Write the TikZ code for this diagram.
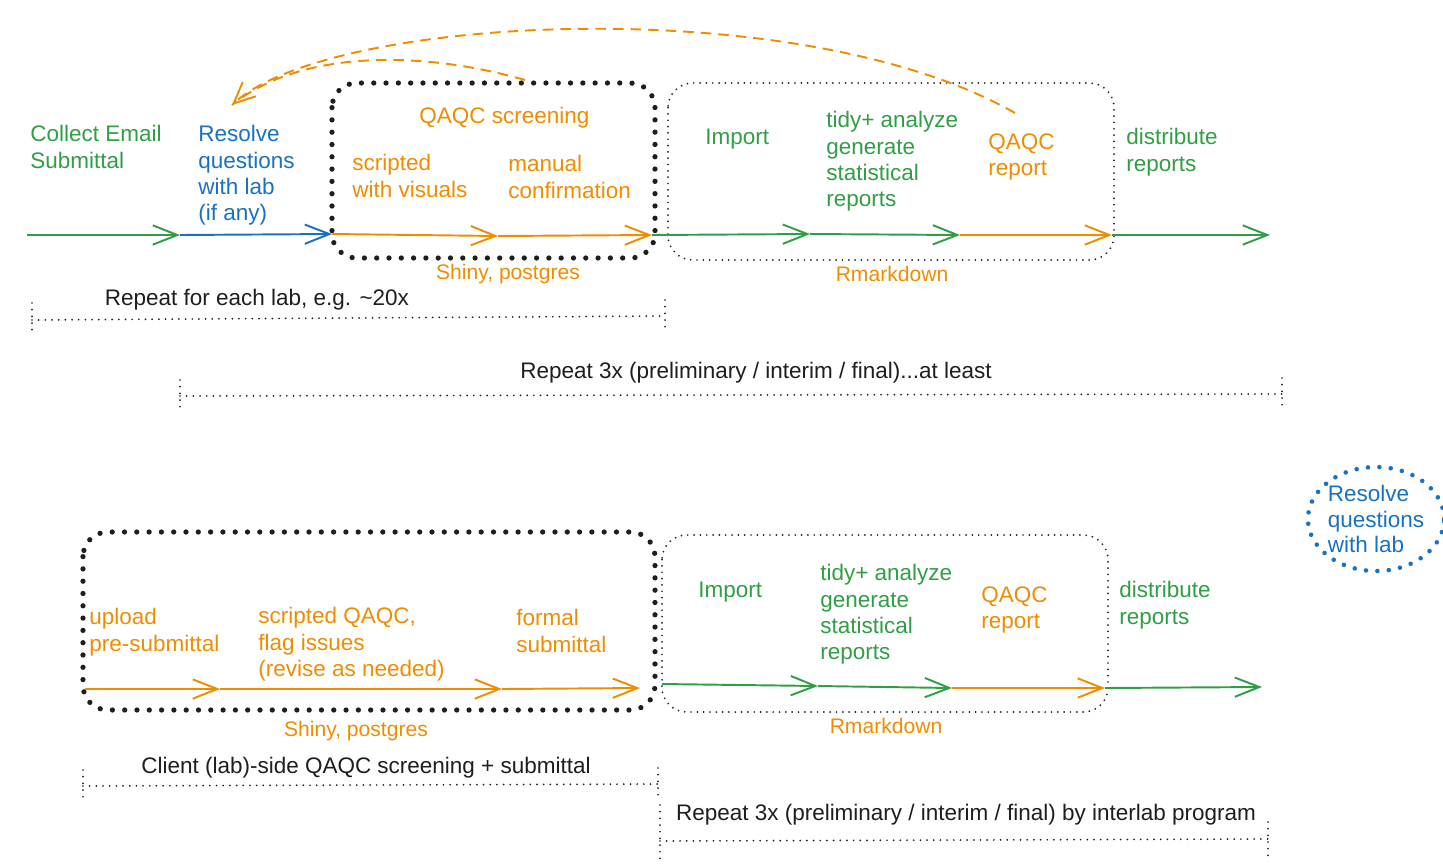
\documentclass[tikz,border=0pt]{standalone}
\usepackage{fontspec}
\setmainfont{Liberation Sans}
\usetikzlibrary{arrows.meta,shapes.geometric}

\definecolor{flowgreen}{HTML}{2F9E44}
\definecolor{flowblue}{HTML}{1971C2}
\definecolor{floworange}{HTML}{F08C00}
\definecolor{inkblack}{HTML}{1E1E1E}

\newcommand{\bodysize}{\fontsize{12.8}{15}\selectfont}
\newcommand{\toolsize}{\fontsize{12}{14}\selectfont}

\tikzset{
	flow/.style={line width=1.1pt, -{Straight Barb[length=14pt,width=11pt]}},
	greenflow/.style={flow, draw=flowgreen},
	blueflow/.style={flow, draw=flowblue},
	orangeflow/.style={flow, draw=floworange},
	lbl/.style={font=\bodysize, align=left, inner sep=0pt, anchor=north west},
	tool/.style={font=\toolsize, text=floworange, inner sep=0pt},
	bigdots/.style={draw=inkblack, line width=3pt, line cap=round,
		dash pattern=on 0pt off 7pt, rounded corners=14pt},
	smalldots/.style={draw=inkblack, line width=1.1pt, line cap=round,
		dash pattern=on 0pt off 3.6pt, rounded corners=14pt},
	spanline/.style={draw=inkblack, line width=1.1pt, line cap=round,
		dash pattern=on 0pt off 3.8pt},
	spantext/.style={font=\bodysize, text=inkblack, inner sep=0pt},
	feedback/.style={draw=floworange, line width=1.1pt, dash pattern=on 6pt off 4pt},
}

\begin{document}
\begin{tikzpicture}[x=0.02cm, y=-0.02cm]

	\useasboundingbox (0,0) rectangle (1443,863);

% coordinate %{{{2

	\coordinate (a0) at (27,235);
	\coordinate (a1) at (180,235);
	\coordinate (a2) at (332,234);
	\coordinate (a3) at (498,236);
	\coordinate (a4) at (652,235);
	\coordinate (a5) at (810,234);
	\coordinate (a6) at (960,235);
	\coordinate (a7) at (1112,235);
	\coordinate (a8) at (1270,235);

	\coordinate (b0) at (85,689);
	\coordinate (b1) at (220,689);
	\coordinate (b2) at (502,689);
	\coordinate (b3) at (640,688);
	\coordinate (b4) at (662,684);
	\coordinate (b5) at (818,686);
	\coordinate (b6) at (952,688);
	\coordinate (b7) at (1105,688);
	\coordinate (b8) at (1262,687);

% group boxes %{{{2

	\draw[bigdots] (332,83) rectangle (655,258);
	\draw[smalldots] (668,83) rectangle (1114,260);
	\draw[bigdots] (83,532) rectangle (655,710);
	\draw[smalldots] (662,535) rectangle (1108,712);

% top row steps %{{{2

	\node[lbl, text=flowgreen] (collect) at (30,125) {Collect Email\\Submittal};
	\node[lbl, text=flowblue] (resolve) at (198,125) {Resolve\\questions\\with lab\\(if any)};
	\node[lbl, text=floworange] (screen) at (419,107) {QAQC screening};
	\node[lbl, text=floworange] (scripted) at (352,154) {scripted\\with visuals};
	\node[lbl, text=floworange] (manual) at (508,155) {manual\\confirmation};
	\node[lbl, text=flowgreen] (import) at (705,129) {Import};
	\node[lbl, text=flowgreen] (tidy) at (826,111) {tidy+ analyze\\generate\\statistical\\reports};
	\node[lbl, text=floworange] (report) at (988,133) {QAQC\\report};
	\node[lbl, text=flowgreen] (distrib) at (1126,128) {distribute\\reports};

	\node[tool] (shiny) at (508,274) {Shiny, postgres};
	\node[tool] (rmd) at (892,274) {Rmarkdown};

% top row flow %{{{2

	\draw[greenflow] (a0) -- (a1);
	\draw[blueflow] (a1) -- (a2);
	\draw[orangeflow] (a2) -- (a3);
	\draw[orangeflow] (a3) -- (a4);
	\draw[greenflow] (a4) -- (a5);
	\draw[greenflow] (a5) -- (a6);
	\draw[orangeflow] (a6) -- (a7);
	\draw[greenflow] (a7) -- (a8);

% feedback to lab %{{{2

	\coordinate (fbstart) at (1015,113);
	\coordinate (fbmid) at (525,80);
	\coordinate (fbend) at (232,105);

	\draw[feedback, -{Straight Barb[length=12pt,width=11pt]}]
		(fbstart) .. controls (800,-10) and (330,15) .. (fbend);
	\draw[feedback] (fbmid) .. controls (420,50) and (300,50) .. (fbend);

% bottom row steps %{{{2

	\node[lbl, text=floworange] (upload) at (89,608) {upload\\pre-submittal};
	\node[lbl, text=floworange] (scrqaqc) at (258,607) {scripted QAQC,\\flag issues\\(revise as needed)};
	\node[lbl, text=floworange] (formal) at (516,609) {formal\\submittal};
	\node[lbl, text=flowgreen] (import2) at (698,582) {Import};
	\node[lbl, text=flowgreen] (tidy2) at (820,564) {tidy+ analyze\\generate\\statistical\\reports};
	\node[lbl, text=floworange] (report2) at (981,586) {QAQC\\report};
	\node[lbl, text=flowgreen] (distrib2) at (1119,581) {distribute\\reports};

	\node[tool] (shiny2) at (356,731) {Shiny, postgres};
	\node[tool] (rmd2) at (886,726) {Rmarkdown};

	\node[ellipse, draw=flowblue, line width=2.6pt, line cap=round,
		dash pattern=on 0pt off 6.5pt, minimum width=2.5cm, minimum height=2.08cm,
		inner sep=0pt, font=\fontsize{12.8}{14.3}\selectfont, align=left, text=flowblue]
		(resolve2) at (1376,519) {Resolve\\questions\\with lab};

% bottom row flow %{{{2

	\draw[orangeflow] (b0) -- (b1);
	\draw[orangeflow] (b1) -- (b2);
	\draw[orangeflow] (b2) -- (b3);
	\draw[greenflow] (b4) -- (b5);
	\draw[greenflow] (b5) -- (b6);
	\draw[orangeflow] (b6) -- (b7);
	\draw[greenflow] (b7) -- (b8);

% repeat spans %{{{2

	\node[spantext] (perlab) at (257,300) {Repeat for each lab, e.g. \textasciitilde20x};
	\draw[spanline] (32,320) -- (665,316);
	\draw[spanline] (32,303) -- (32,336);
	\draw[spanline] (665,300) -- (665,332);

	\node[spantext] (thrice) at (756,373) {Repeat 3x (preliminary / interim / final)...at least};
	\draw[spanline] (180,396) -- (1282,394);
	\draw[spanline] (180,380) -- (180,410);
	\draw[spanline] (1282,378) -- (1282,410);

	\node[spantext] (client) at (366,768) {Client (lab)-side QAQC screening + submittal};
	\draw[spanline] (83,786) -- (658,784);
	\draw[spanline] (83,770) -- (83,800);
	\draw[spanline] (658,768) -- (658,800);

	\node[spantext] (thrice2) at (966,815) {Repeat 3x (preliminary / interim / final) by interlab program};
	\draw[spanline] (660,841) -- (1268,839);
	\draw[spanline] (660,805) -- (660,860);
	\draw[spanline] (1268,822) -- (1268,856);

\end{tikzpicture}
\end{document}
